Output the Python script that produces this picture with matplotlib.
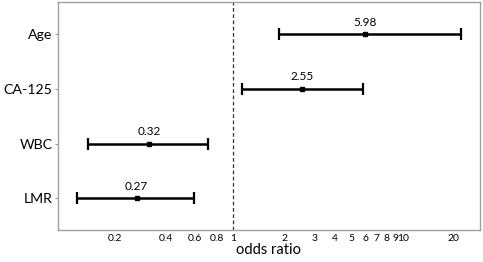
import numpy as np
import matplotlib
matplotlib.use("Agg")
import matplotlib.pyplot as plt
from matplotlib.ticker import FixedLocator, NullLocator

# odds ratios with 95% CI (top to bottom)
labels = ["Age", "CA-125", "WBC", "LMR"]
odds = [5.98, 2.55, 0.32, 0.27]
ci_low = [1.87, 1.13, 0.14, 0.12]
ci_high = [21.9, 5.83, 0.71, 0.59]
tick_vals = [0.2, 0.4, 0.6, 0.8, 1, 2, 3, 4, 5, 6, 7, 8, 9, 10, 20]
tick_text = ["0.2", "0.4", "0.6", "0.8", "1", "2", "3", "4", "5", "6", "7", "8", "9", "10", "20"]

plt.rcParams['font.family'] = ['Lato', 'DejaVu Sans']

fig = plt.figure(figsize=(4.83, 2.62), dpi=100)
ax = fig.add_axes([58 / 483, 32 / 262, 422 / 483, 228 / 262])

ypos = np.arange(len(labels), 0, -1)
odds = np.array(odds)
err = [odds - np.array(ci_low), np.array(ci_high) - odds]

ax.errorbar(odds, ypos, xerr=err, fmt='s', color='black', ms=3,
            elinewidth=1.8, capsize=4.5, capthick=1.6)
for x, y in zip(odds, ypos):
    ax.text(x, y + 0.12, f"{x:.2f}", ha='center', va='bottom', fontsize=8.5)

ax.axvline(1, color='#333333', ls=(0, (3, 2)), lw=0.9)

ax.set_xscale('log')
ax.set_xlim(0.093, 28.5)
ax.set_ylim(0.42, 4.59)
ax.xaxis.set_major_locator(FixedLocator(tick_vals))
ax.xaxis.set_minor_locator(NullLocator())
ax.set_xticklabels(tick_text, fontsize=7.5)
ax.tick_params(axis='x', length=0, pad=3)
ax.set_yticks(ypos)
ax.set_yticklabels(labels, fontsize=10.2)
ax.tick_params(axis='y', length=2, color='#999999', pad=2)
ax.set_xlabel("odds ratio", fontsize=10.5, labelpad=0)

for s in ax.spines.values():
    s.set_color('#a0a0a0')
    s.set_linewidth(1.0)

fig.savefig("out.png", dpi=100)
